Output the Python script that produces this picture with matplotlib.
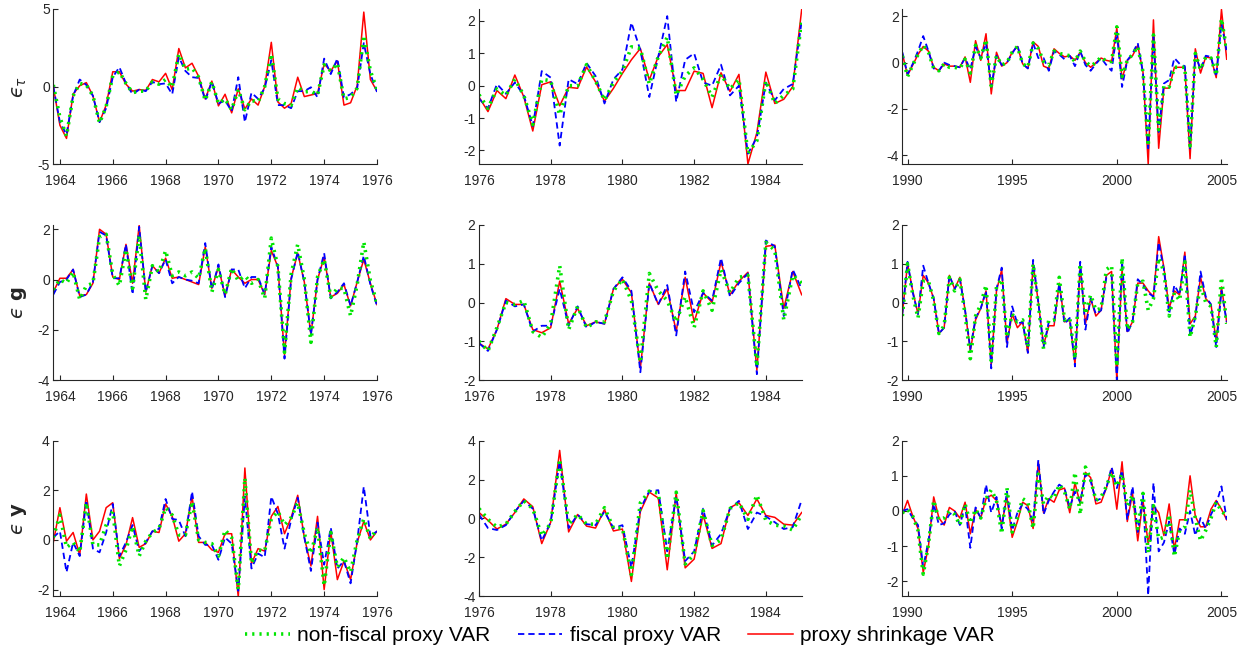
import numpy as np
import matplotlib
matplotlib.use("Agg")
import matplotlib.pyplot as plt

plt.rcParams['font.family'] = ['Liberation Sans', 'DejaVu Sans']
plt.rcParams['mathtext.fontset'] = 'dejavusans'
plt.rcParams['axes.unicode_minus'] = False

# quarterly date axes for the three sample periods
dates1 = np.arange(1963.75, 1976.001, 0.25)   # 50 quarters
dates2 = np.arange(1976.0, 1985.001, 0.25)    # 37 quarters
dates3 = np.arange(1989.75, 2005.251, 0.25)   # 63 quarters

# ---------- row 1: epsilon_tau ----------
tau1_red = [0.0, -2.5, -3.35, -0.5, 0.05, 0.25, -0.6, -2.3, -1.2, 0.95, 0.95, 0.15, -0.3, -0.2, -0.25, 0.45, 0.3, 0.85, -0.2, 2.45,
            1.2, 1.5, 0.65, -0.8, 0.35, -1.25, -0.5, -1.7, -0.15, -1.45, -0.8, -1.2, 0.0, 2.85, -1.0, -1.4, -1.1, 0.6, -0.65, -0.55,
            -0.45, 1.45, 1.0, 1.65, -1.2, -1.05, 0.05, 4.8, 0.45, -0.3]
tau1_blue = [0.0, -2.3, -3.1, -0.6, 0.45, 0.1, -0.6, -2.3, -1.4, 0.6, 1.25, 0.2, -0.5, -0.2, -0.3, 0.3, 0.15, 0.2, -0.5, 1.9,
             1.0, 0.6, 0.55, -0.9, 0.3, -1.1, -0.9, -1.6, 0.6, -2.3, -0.4, -0.8, -0.1, 1.7, -1.2, -1.2, -1.4, -0.3, -0.3, -0.05,
             -0.7, 1.8, 0.8, 1.8, -0.7, -0.5, -0.1, 2.8, 0.8, -0.35]
tau1_green = [0.1, -2.0, -3.2, -0.6, 0.2, 0.1, -0.6, -2.35, -1.3, 0.7, 0.95, 0.2, -0.4, -0.3, -0.3, 0.3, 0.15, 0.45, -0.05, 2.1,
              1.1, 1.2, 0.6, -0.9, 0.3, -1.1, -0.8, -1.5, -0.2, -1.5, -0.9, -1.0, 0.0, 2.1, -0.8, -1.1, -1.2, -0.05, -0.35, -0.3,
              -0.55, 1.4, 1.0, 1.5, -0.8, -0.7, -0.1, 3.3, 1.0, -0.2]

tau2_red = [-0.35, -0.8, -0.15, -0.4, 0.33, -0.35, -1.4, 0.03, 0.12, -0.62, -0.05, -0.08, 0.58, 0.12, -0.48, -0.08, 0.38, 0.8, 1.15,
            0.18, 0.9, 1.27, -0.15, -0.15, 0.45, 0.38, -0.68, 0.4, -0.18, 0.35, -2.42, -1.45, 0.42, -0.55, -0.42, -0.03, 2.36]
tau2_blue = [-0.4, -0.7, 0.05, -0.25, 0.1, -0.3, -1.25, 0.45, 0.25, -1.85, 0.2, 0.05, 0.7, 0.3, -0.55, 0.2, 0.5, 1.95, 1.1,
             -0.35, 0.9, 2.15, -0.5, 0.8, 1.0, 0.1, 0.0, 0.65, -0.3, 0.0, -2.1, -1.6, 0.1, -0.45, -0.1, 0.05, 2.0]
tau2_green = [-0.28, -0.7, -0.1, -0.3, 0.2, -0.3, -1.2, 0.2, 0.15, -0.9, 0.0, 0.0, 0.65, 0.15, -0.45, 0.1, 0.45, 1.2, 1.15,
              0.05, 0.9, 1.5, -0.3, 0.3, 0.55, 0.2, -0.35, 0.35, -0.1, 0.2, -2.1, -1.7, 0.15, -0.55, -0.3, -0.1, 2.0]

tau3_red = [0.4, -0.55, -0.1, 0.35, 0.7, 0.5, -0.2, -0.35, -0.05, -0.15, -0.15, -0.2, 0.25, -0.85, 0.95, 0.1, 1.25, -1.35, 0.45,
            -0.15, 0.0, 0.45, 0.7, -0.05, -0.25, 0.9, 0.7, -0.15, -0.25, 0.6, 0.4, 0.25, 0.3, 0.1, 0.45, 0.0, -0.2, 0.0, 0.2,
            0.1, 0.05, 1.5, -0.7, 0.1, 0.3, 0.75, -0.4, -4.4, 1.85, -3.7, -1.1, -1.1, -0.2, -0.2, -0.2, -4.15, 0.6, -0.45, 0.25,
            0.2, -0.65, 2.3, 0.15]
tau3_blue = [0.45, -0.5, -0.05, 0.5, 1.15, 0.5, -0.25, -0.35, 0.0, -0.1, -0.15, -0.2, 0.2, -0.3, 0.7, 0.2, 0.85, -1.05, 0.3,
             -0.1, 0.0, 0.4, 0.75, -0.05, -0.25, 0.85, 0.2, 0.2, -0.35, 0.5, 0.35, 0.15, 0.3, -0.15, 0.5, -0.1, -0.35, -0.05, 0.2,
             -0.1, -0.35, 1.3, -1.05, 0.1, 0.4, 0.85, -0.45, -3.7, 1.1, -3.0, -0.9, -0.75, 0.2, -0.05, -0.15, -3.7, 0.35, -0.3, 0.3,
             0.25, -0.6, 1.7, 0.5]
tau3_green = [0.3, -0.6, -0.1, 0.35, 0.75, 0.45, -0.25, -0.35, -0.05, -0.2, -0.2, -0.25, 0.15, -0.45, 0.75, 0.2, 1.0, -1.0, 0.3,
              -0.1, 0.0, 0.45, 0.7, -0.05, -0.2, 0.85, 0.6, 0.05, -0.1, 0.5, 0.4, 0.35, 0.3, 0.05, 0.5, 0.05, -0.15, 0.0, 0.25,
              0.05, 0.05, 1.55, -0.6, 0.1, 0.35, 0.7, -0.4, -3.6, 1.2, -2.9, -1.0, -1.05, -0.2, -0.2, -0.2, -3.6, 0.4, -0.3, 0.25,
              0.2, -0.55, 1.9, 0.55]

# ---------- row 2: epsilon_g ----------
g1_red = [-0.5, 0.05, 0.05, 0.4, -0.65, -0.6, -0.15, 2.0, 1.8, 0.1, 0.0, 1.4, -0.15, 2.15, -0.5, 0.55, 0.25, 0.85, 0.05, 0.1,
          0.0, -0.1, -0.2, 1.3, -0.35, 0.5, -0.65, 0.4, 0.1, -0.15, 0.0, 0.0, -0.6, 1.15, 0.5, -3.0, 0.05, 1.05, -0.1, -2.2,
          0.0, 0.9, -0.7, -0.55, -0.2, -1.05, -0.1, 0.8, -0.15, -1.0]
g1_blue = [-0.6, -0.1, 0.0, 0.4, -0.7, -0.6, -0.1, 1.9, 1.75, 0.05, 0.05, 1.4, -0.6, 2.1, -0.5, 0.55, 0.25, 0.8, -0.15, 0.1,
           0.0, -0.05, -0.15, 1.45, -0.4, 0.6, -0.7, 0.4, 0.4, -0.35, 0.1, 0.1, -0.6, 1.3, 0.5, -3.15, 0.0, 1.1, -0.1, -2.2,
           0.0, 1.05, -0.75, -0.5, -0.15, -1.05, -0.1, 0.95, -0.2, -1.05]
g1_green = [-0.4, 0.0, -0.15, 0.3, -0.8, -0.25, -0.15, 1.7, 1.8, 0.2, -0.25, 1.2, -0.35, 1.75, -0.8, 0.55, 0.3, 1.15, 0.15, 0.3,
            0.15, 0.3, 0.05, 1.25, -0.5, 0.4, -0.6, 0.45, -0.05, 0.15, -0.15, 0.0, -0.75, 1.65, 0.5, -2.9, 0.2, 1.4, 0.0, -2.5,
            0.1, 0.8, -0.7, -0.35, -0.35, -1.45, -0.2, 1.5, -0.05, -0.95]

g2_red = [-1.05, -1.2, -0.7, 0.1, -0.05, -0.05, -0.7, -0.78, -0.65, 0.55, -0.55, -0.15, -0.6, -0.5, -0.55, 0.35, 0.6, 0.25, -1.7,
          0.5, -0.05, 0.35, -0.75, 0.65, -0.5, 0.25, 0.0, 1.05, 0.2, 0.55, 0.78, -1.75, 1.45, 1.48, -0.15, 0.8, 0.2]
g2_blue = [-1.05, -1.25, -0.7, 0.05, -0.1, -0.05, -0.75, -0.6, -0.6, 0.35, -0.6, -0.1, -0.65, -0.5, -0.55, 0.35, 0.65, 0.3, -1.8,
           0.5, -0.05, 0.45, -0.85, 0.8, -0.25, 0.25, 0.05, 1.15, 0.15, 0.5, 0.75, -1.85, 1.6, 1.45, -0.35, 0.85, 0.35]
g2_green = [-1.0, -1.25, -0.65, 0.0, -0.05, 0.05, -0.75, -0.9, -0.55, 0.95, -0.7, -0.1, -0.65, -0.5, -0.5, 0.3, 0.6, 0.05, -1.55,
            0.75, 0.3, 0.05, -0.5, 0.15, -0.65, 0.3, -0.2, 0.85, 0.25, 0.65, 0.7, -1.65, 1.55, 1.35, -0.45, 0.7, 0.5]

g3_red = [-0.3, 1.0, 0.3, -0.3, 0.7, 0.5, 0.1, -0.8, -0.65, 0.7, 0.35, 0.65, -0.2, -1.25, -0.45, -0.15, 0.3, -1.6, 0.3, 0.85,
          -1.05, -0.3, -0.65, -0.5, -1.3, 1.0, 0.0, -1.1, -0.6, -0.6, 0.5, -0.5, -0.45, -1.6, 0.95, -0.55, 0.1, -0.35, -0.2,
          0.7, 0.8, -2.0, 0.85, -0.75, -0.5, 0.5, 0.5, 0.3, 0.15, 1.7, 0.9, -0.15, 0.3, 0.2, 1.3, -0.55, -0.35, 0.65, 0.1,
          -0.05, -1.0, 0.4, -0.5]
g3_blue = [-0.3, 1.05, 0.25, -0.3, 0.95, 0.5, 0.1, -0.8, -0.65, 0.7, 0.35, 0.6, -0.2, -1.2, -0.4, -0.15, 0.3, -1.7, 0.35, 0.9,
           -1.15, -0.1, -0.55, -0.5, -1.3, 1.1, 0.0, -1.15, -0.5, -0.5, 0.5, -0.55, -0.4, -1.65, 1.05, -0.7, 0.1, -0.3, -0.2,
           0.65, 0.7, -2.0, 1.05, -0.8, -0.5, 0.6, 0.45, 0.25, 0.15, 1.55, 0.85, -0.3, 0.45, 0.2, 1.25, -0.85, -0.4, 0.8, 0.15,
           -0.05, -1.15, 0.3, -0.5]
g3_green = [-0.35, 1.0, 0.2, -0.4, 0.55, 0.55, 0.05, -0.8, -0.6, 0.65, 0.3, 0.6, -0.3, -1.45, -0.35, -0.05, 0.45, -1.5, 0.4, 0.6,
            -0.9, -0.3, -0.5, -0.45, -1.15, 1.0, -0.05, -1.2, -0.45, -0.45, 0.65, -0.45, -0.4, -1.45, 1.0, -0.3, 0.2, -0.2, -0.15,
            0.85, 0.95, -1.65, 1.15, -0.7, -0.5, 0.5, 0.55, -0.2, 0.1, 1.15, 0.8, -0.35, 0.25, 0.05, 1.05, -0.9, -0.35, 0.45, 0.0,
            -0.1, -1.15, 0.65, -0.55]

# ---------- row 3: epsilon_y ----------
y1_red = [-0.1, 1.3, -0.05, 0.3, -0.6, 1.85, 0.0, 0.35, 1.3, 1.5, -0.75, -0.2, 0.9, -0.3, -0.15, 0.35, 0.3, 1.45, 0.95, -0.05,
          0.25, 1.75, -0.1, -0.1, -0.4, -0.5, 0.25, 0.25, -2.3, 2.9, -0.95, -0.35, -0.45, 0.95, 1.35, 0.25, 0.9, 1.8, 0.1, -1.05,
          0.95, -2.0, 0.35, -1.6, -0.85, -1.6, -0.1, 0.75, 0.0, 0.35]
y1_blue = [0.1, 0.35, -1.3, -0.1, -0.65, 1.6, -0.35, -0.5, 0.3, 1.45, -0.65, -0.1, 0.6, -0.45, -0.1, 0.35, 0.45, 1.65, 0.85, 0.8,
           0.15, 1.95, 0.15, -0.2, -0.2, -0.8, 0.1, -0.15, -2.05, 1.75, -1.15, -0.55, -0.7, 1.75, 1.05, -0.35, 0.8, 1.7, 0.1, -1.25,
           0.7, -1.0, 0.5, -1.15, -0.85, -1.75, -0.05, 2.15, 0.15, 0.35]
y1_green = [0.1, 1.0, -0.3, -0.1, -0.5, 1.5, -0.2, -0.2, 0.6, 1.15, -1.05, -0.4, 0.55, -0.65, -0.05, 0.3, 0.45, 1.3, 1.0, 0.2,
            0.2, 1.55, 0.0, -0.1, -0.15, -0.65, 0.4, 0.1, -2.0, 2.5, -0.95, -0.4, -0.45, 0.85, 1.15, 0.6, 0.9, 1.5, 0.25, -0.55,
            0.5, -1.85, 0.3, -1.1, -0.7, -1.3, 0.0, 0.85, 0.05, 0.45]

y2_red = [0.3, -0.1, -0.55, -0.3, 0.3, 1.0, 0.6, -1.3, -0.2, 3.5, -0.7, 0.2, -0.4, -0.5, 0.45, -0.65, -0.55, -3.25, 0.35,
          1.35, 1.05, -2.65, 1.3, -2.55, -2.1, 0.2, -1.55, -1.3, 0.55, 0.8, 0.15, 1.0, 0.15, 0.05, -0.3, -0.35, 0.3]
y2_blue = [0.2, -0.5, -0.6, -0.35, 0.35, 0.9, 0.5, -1.15, -0.2, 2.95, -0.5, 0.2, -0.3, -0.35, 0.35, -0.5, -0.35, -2.55, 0.5,
           1.4, 1.45, -1.7, 1.15, -2.2, -1.7, 0.5, -1.4, -0.8, 0.5, 0.9, -0.55, 0.3, 0.1, -0.2, -0.55, -0.45, 0.95]
y2_green = [0.5, -0.05, -0.45, -0.3, 0.35, 0.9, 0.5, -0.9, -0.25, 3.05, -0.3, 0.2, -0.3, -0.3, 0.55, -0.5, -0.5, -2.9, 0.8,
            1.4, 1.3, -2.1, 1.35, -2.35, -1.85, 0.4, -1.4, -1.1, 0.5, 0.8, -0.05, 1.2, -0.1, -0.35, -0.4, -0.6, 0.2]

y3_red = [-0.1, 0.3, -0.15, -0.5, -1.75, -1.0, 0.4, -0.2, -0.4, 0.1, 0.0, -0.2, 0.25, -0.65, 0.05, -0.2, 0.35, 0.45, 0.3, -0.4,
          0.4, -0.75, -0.3, 0.25, 0.15, -0.5, 1.4, -0.05, 0.35, 0.25, 0.6, 0.65, -0.05, 0.8, 0.2, 1.1, 0.95, 0.2, 0.25, 0.65,
          1.2, 0.05, 1.4, -0.3, 0.5, -0.85, 0.3, -0.95, 0.15, -0.05, -0.7, 0.2, -1.1, -0.25, -0.25, 1.0, -0.15, -0.45, -0.45,
          0.05, 0.3, 0.05, -0.25]
y3_blue = [0.0, 0.05, -0.2, -0.4, -1.6, -0.85, 0.2, -0.4, -0.35, -0.1, 0.0, -0.4, 0.15, -1.05, 0.1, -0.2, 0.75, -0.05, 0.4, -0.5,
           0.55, -0.55, -0.05, 0.2, 0.05, -0.3, 1.45, -0.1, 0.3, 0.55, 0.75, 0.65, 0.1, 0.55, 0.25, 1.05, 0.85, 0.3, 0.35, 0.65,
           1.25, 0.65, 1.15, -0.25, 0.7, -0.6, 0.45, -2.4, 0.8, -1.15, -0.9, -0.3, -1.25, -0.5, -0.65, 0.0, -0.7, -0.2, -0.5,
           -0.1, 0.2, 0.7, -0.25]
y3_green = [-0.05, 0.05, -0.15, -0.55, -1.8, -0.95, 0.3, -0.25, -0.2, 0.0, -0.1, -0.4, 0.2, -0.35, 0.05, -0.2, 0.35, 0.6, 0.3, -0.65,
            0.65, -0.6, -0.2, 0.35, 0.25, -0.5, 1.05, 0.2, 0.45, 0.35, 0.75, 0.55, 0.05, 1.1, -0.1, 1.25, 0.9, 0.3, 0.4, 0.7,
            1.1, 0.7, 1.05, 0.15, 0.45, -0.5, 0.5, -1.2, 0.15, -0.8, -0.75, -0.1, -1.3, -0.55, -0.45, 0.6, -0.2, -0.85, -0.55,
            -0.2, 0.25, 0.0, -0.15]

row_labels = ['$\u03f5_{\\tau}$', '$\u03f5\\ \\mathbf{g}$', '$\u03f5\\ \\mathbf{y}$']
legend_labels = ['non-fiscal proxy VAR', 'fiscal proxy VAR', 'proxy shrinkage VAR']

panels = [
    [(dates1, tau1_green, tau1_blue, tau1_red), (dates2, tau2_green, tau2_blue, tau2_red), (dates3, tau3_green, tau3_blue, tau3_red)],
    [(dates1, g1_green, g1_blue, g1_red), (dates2, g2_green, g2_blue, g2_red), (dates3, g3_green, g3_blue, g3_red)],
    [(dates1, y1_green, y1_blue, y1_red), (dates2, y2_green, y2_blue, y2_red), (dates3, y3_green, y3_blue, y3_red)],
]

xlims = [(1963.75, 1976), (1976, 1985), (1989.75, 2005.25)]
xticks = [np.arange(1964, 1977, 2), np.arange(1976, 1985, 2), [1990, 1995, 2000, 2005]]
ylims = [[(-5, 5), (-2.42, 2.37), (-4.38, 2.32)],
         [(-4, 2.17), (-2, 2), (-2, 2)],
         [(-2.26, 4), (-4, 4), (-2.42, 2)]]
yticks = [[[-5, 0, 5], [-2, -1, 0, 1, 2], [-4, -2, 0, 2]],
          [[-4, -2, 0, 2], [-2, -1, 0, 1, 2], [-2, -1, 0, 1, 2]],
          [[-2, 0, 2, 4], [-4, -2, 0, 2, 4], [-2, -1, 0, 1, 2]]]

fig = plt.figure(figsize=(12.45, 6.51), dpi=100)
W, H = 1245, 651
col_l = [53.3, 479.0, 902.3]
col_r = [377.0, 801.7, 1226.7]
row_t = [9.0, 225.0, 440.7]
row_b = [164.0, 380.0, 596.0]
axcol = '#262626'

green = '#00e600'
blue = '#0000ff'
red = '#ff0000'
handles = None
for r in range(3):
    for c in range(3):
        ax = fig.add_axes([col_l[c] / W, 1 - row_b[r] / H, (col_r[c] - col_l[c]) / W, (row_b[r] - row_t[r]) / H])
        d, gr, bl, rd = panels[r][c]
        hr, = ax.plot(d, rd, '-', color=red, lw=1.1)
        hb, = ax.plot(d, bl, '--', color=blue, lw=1.3, dashes=(3.5, 2.2))
        hg, = ax.plot(d, gr, ':', color=green, lw=2.6, dashes=(0.6, 1.4))
        handles = [hg, hb, hr]
        ax.set_xlim(*xlims[c])
        ax.set_ylim(*ylims[r][c])
        ax.set_xticks(xticks[c])
        ax.set_yticks(yticks[r][c])
        for s in ['top', 'right']:
            ax.spines[s].set_visible(False)
        for s in ['left', 'bottom']:
            ax.spines[s].set_color(axcol)
            ax.spines[s].set_linewidth(0.8)
        ax.tick_params(direction='in', length=3.5, width=0.8, colors=axcol, labelsize=10)
        ax.tick_params(axis='x', pad=7.5)
        ax.tick_params(axis='y', pad=2.5)
        if c == 0:
            ax.set_ylabel(row_labels[r], fontsize=14, color=axcol, labelpad=6)

fig.legend(handles, legend_labels, loc='center', bbox_to_anchor=(0.498, 0.024), ncol=3, frameon=False,
           fontsize=15, handlelength=2.15, handletextpad=0.35, columnspacing=1.3)

fig.savefig('out.png', dpi=100)
